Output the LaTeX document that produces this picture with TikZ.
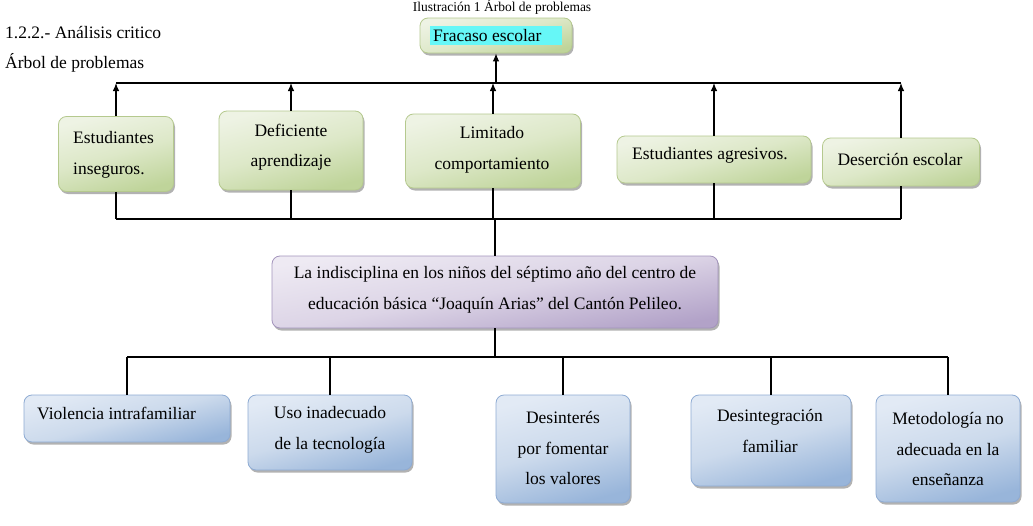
\documentclass[tikz,border=0pt]{standalone}
\usepackage{fontspec}
\setmainfont{Liberation Serif}
\usetikzlibrary{shadows,arrows.meta,calc}
\definecolor{gtop}{HTML}{EEF3E4}
\definecolor{gmid}{HTML}{DDE8C8}
\definecolor{gbot}{HTML}{BFD49A}
\definecolor{gline}{HTML}{B5C98E}
\definecolor{ptop}{HTML}{EEEAF3}
\definecolor{pmid}{HTML}{DCD4E6}
\definecolor{pbot}{HTML}{B2A2C8}
\definecolor{pline}{HTML}{A394BC}
\definecolor{btop}{HTML}{E2EAF5}
\definecolor{bmid}{HTML}{CCDAEC}
\definecolor{bbot}{HTML}{98B5DA}
\definecolor{bline}{HTML}{8EABD3}
\definecolor{hl}{HTML}{66F7F7}
\tikzset{
  boxbase/.style={rounded corners=8pt, inner sep=0pt, line width=0.8pt,
    drop shadow={shadow xshift=1.5pt, shadow yshift=-2.5pt, opacity=0.3, fill=black}},
  gbox/.style={boxbase, draw=gline, top color=gtop, bottom color=gbot, middle color=gmid, shading angle=15},
  pbox/.style={boxbase, draw=pline, top color=ptop, bottom color=pbot, middle color=pmid, shading angle=10},
  bbox/.style={boxbase, draw=bline, top color=btop, bottom color=bbot, middle color=bmid, shading angle=15},
  txt/.style={inner sep=0pt, align=center, font=\fontsize{17.5}{30.5}\selectfont},
  conn/.style={line width=1.1pt, black},
  arr/.style={conn, -{Latex[length=8pt, width=6.5pt]}}
}
\begin{document}
\begin{tikzpicture}[x=1pt, y=-1pt]
\useasboundingbox[fill=white] (0,0) rectangle (1033,525);

% headings
\node[inner sep=0pt, anchor=base, font=\fontsize{13.5}{16}\selectfont] (title) at (502,11.5) {Ilustración 1 Árbol de problemas};
\node[txt, anchor=west] (h1) at (5,33) {1.2.2.- Análisis critico};
\node[txt, anchor=west] (h2) at (5,63) {Árbol de problemas};

% effect
\node[gbox, minimum width=152pt, minimum height=35pt] (f) at (496,35.5) {};
\node[fill=hl, minimum width=130pt, inner xsep=3pt, inner ysep=0pt, minimum height=19pt, anchor=west, font=\fontsize{17.5}{20}\selectfont] (ft) at (430,35.5) {Fracaso escolar\hspace*{17pt}};

% upper row
\node[gbox, minimum width=115pt, minimum height=75pt] (e1) at (116,154) {};
\node[gbox, minimum width=144pt, minimum height=79pt] (e2) at (291,150.5) {};
\node[gbox, minimum width=175pt, minimum height=74pt] (e3) at (493,151) {};
\node[gbox, minimum width=194pt, minimum height=47pt] (e4) at (714,159.5) {};
\node[gbox, minimum width=157pt, minimum height=48pt] (e5) at (901,162) {};

\node[txt, align=left, anchor=west] (e1t) at (73,155) {Estudiantes\\inseguros.};
\node[txt] (e2t) at (291,147) {Deficiente\\aprendizaje};
\node[txt] (e3t) at (492,150) {Limitado\\comportamiento};
\node[txt] (e4t) at (710,155) {Estudiantes agresivos.};
\node[txt] (e5t) at (900,159) {Deserción escolar};

% central problem
\node[pbox, minimum width=446pt, minimum height=72pt] (p) at (495,292) {};
\node[txt] (pt) at (495,290) {La indisciplina en los niños del séptimo año del centro de\\educación básica “Joaquín Arias” del Cantón Pelileo.};

% causes
\node[bbox, minimum width=206pt, minimum height=47pt] (c1) at (127,418.5) {};
\node[bbox, minimum width=164pt, minimum height=75pt] (c2) at (330,432.5) {};
\node[bbox, minimum width=134pt, minimum height=108pt] (c3) at (563,449) {};
\node[bbox, minimum width=160pt, minimum height=91pt] (c4) at (771,440.5) {};
\node[bbox, minimum width=144pt, minimum height=107pt] (c5) at (948,448.5) {};

\node[txt, anchor=west] (c1t) at (37,413) {Violencia intrafamiliar};
\node[txt] (c2t) at (330,430) {Uso inadecuado\\de la tecnología};
\node[txt] (c3t) at (563,448) {Desinterés\\por fomentar\\los valores};
\node[txt] (c4t) at (770,431) {Desintegración\\familiar};
\node[txt] (c5t) at (948,449) {Metodología no\\adecuada en la\\enseñanza};

% connector coordinates
\coordinate (hL) at (116,83);
\coordinate (hR) at (901,83);
\coordinate (bL) at (116,219);
\coordinate (bR) at (901,219);
\coordinate (cL) at (127,357);
\coordinate (cR) at (948,357);

% upper connectors
\draw[conn] (hL) -- (hR);
\draw[arr] (f.south |- hL) -- (f.south);
\foreach \n in {e1,e2,e3,e4,e5}{
  \draw[arr] (\n.north) -- (\n.north |- hL);
  \draw[conn] (\n.south) -- (\n.south |- bL);
}
\draw[conn] (bL) -- (bR);
\draw[conn] (p.north |- bL) -- (p.north);

% lower connectors
\draw[conn] (p.south) -- (p.south |- cL);
\draw[conn] (cL) -- (cR);
\foreach \n in {c1,c2,c3,c4,c5}{
  \draw[conn] (\n.north |- cL) -- (\n.north);
}
\end{tikzpicture}
\end{document}
